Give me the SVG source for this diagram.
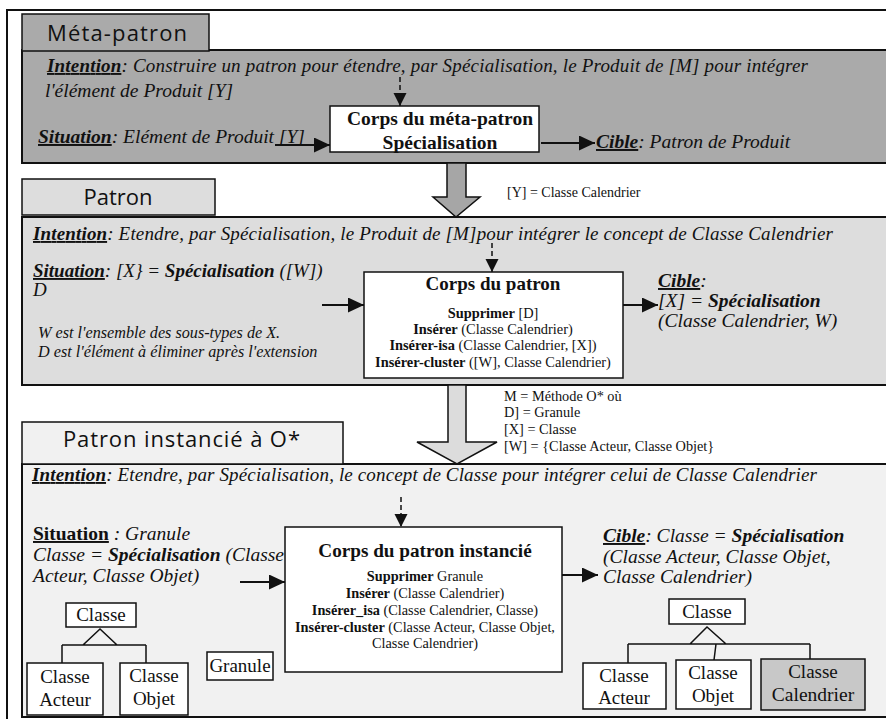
<svg xmlns="http://www.w3.org/2000/svg" width="886" height="719" viewBox="0 0 886 719">
<style>
.s{font-family:"Liberation Serif","Times New Roman",serif;fill:#111}
.t{font-family:"Open Sans","DejaVu Sans",sans-serif;fill:#111}
.i{font-style:italic}
.b{font-weight:bold}
.u{text-decoration:underline}
.box{fill:#fff;stroke:#111;stroke-width:1.5}
.cl{fill:#fff;stroke:#111;stroke-width:1.5}
.ln{stroke:#111;stroke-width:1.5;fill:none}
.ar{stroke:#111;stroke-width:1.8;fill:none;marker-end:url(#ah)}
.da{stroke:#111;stroke-width:1.5;fill:none;stroke-dasharray:5,3;marker-end:url(#ahs)}
</style>
<defs>
<marker id="ah" markerUnits="userSpaceOnUse" markerWidth="17" markerHeight="15" refX="16" refY="7.5" orient="auto"><path d="M0,0 L16,7.5 L0,15 z" fill="#111"/></marker>
<marker id="ahs" markerUnits="userSpaceOnUse" markerWidth="14" markerHeight="14" refX="13" refY="6.5" orient="auto"><path d="M0,0 L13,6.5 L0,13 z" fill="#111"/></marker>
</defs>
<rect x="0" y="0" width="886" height="719" fill="#fff"/>
<rect x="7" y="10" width="900" height="720" fill="none" stroke="#111" stroke-width="2"/>

<!-- Section 1 -->
<g id="meta-patron">
<rect x="22" y="50" width="880" height="113" fill="#aaaaaa" stroke="#111" stroke-width="2"/>
<rect x="22" y="14" width="187" height="37" fill="#aaaaaa" stroke="#111" stroke-width="1.5"/>
<text class="t" x="47" y="41" font-size="22" textLength="140">Méta-patron</text>
<text class="s i" x="47" y="72" font-size="19" textLength="761"><tspan class="b u">Intention</tspan>: Construire un patron pour étendre, par Spécialisation, le Produit de [M] pour intégrer</text>
<text class="s i" x="45" y="97" font-size="19.5">l'élément de Produit [Y]</text>
<text class="s i" x="38" y="143" font-size="19.5"><tspan class="b u">Situation</tspan>: Elément de Produit [Y]</text>
<text class="s i" x="596" y="148" font-size="19.5"><tspan class="b u">Cible</tspan>: Patron de Produit</text>
</g>
<g id="corps-meta">
<rect class="box" x="330" y="106" width="209" height="46"/>
<text class="s b" x="440" y="125" font-size="19.5" text-anchor="middle">Corps du méta-patron</text>
<text class="s b" x="440" y="149" font-size="19.5" text-anchor="middle">Spécialisation</text>
</g>

<!-- Section 2 -->
<g id="patron">
<rect x="22" y="217" width="880" height="168" fill="#dddddd" stroke="#111" stroke-width="2"/>
<rect x="22" y="179" width="193" height="36" fill="#dddddd" stroke="#111" stroke-width="1.5"/>
<text class="t" x="118" y="205" font-size="22" text-anchor="middle">Patron</text>
<text class="s i" x="33" y="240" font-size="19" textLength="800"><tspan class="b u">Intention</tspan>: Etendre, par Spécialisation, le Produit de [M]pour intégrer le concept de Classe Calendrier</text>
<text class="s i" x="33" y="277" font-size="19"><tspan class="b u">Situation</tspan>: [X} = <tspan class="b">Spécialisation</tspan> ([W])</text>
<text class="s i" x="33" y="296" font-size="19">D</text>
<text class="s i" x="38" y="338" font-size="16.2">W est l'ensemble des sous-types de X.</text>
<text class="s i" x="38" y="357" font-size="16.2">D est l'élément à éliminer après l'extension</text>
<text class="s i" x="658" y="287" font-size="19.5"><tspan class="b u">Cible</tspan>:</text>
<text class="s i" x="658" y="307" font-size="19.5">[X] = <tspan class="b">Spécialisation</tspan></text>
<text class="s i" x="658" y="327" font-size="19.5">(Classe Calendrier, W)</text>
</g>
<g id="corps-patron">
<rect class="box" x="364" y="272" width="259" height="106"/>
<text class="s b" x="493" y="290" font-size="19" text-anchor="middle">Corps du patron</text>
<text class="s" x="493" y="318" font-size="14.4" text-anchor="middle"><tspan class="b">Supprimer</tspan> [D]</text>
<text class="s" x="493" y="334" font-size="14.4" text-anchor="middle"><tspan class="b">Insérer</tspan> (Classe Calendrier)</text>
<text class="s" x="493" y="350" font-size="14.4" text-anchor="middle"><tspan class="b">Insérer-isa</tspan> (Classe Calendrier, [X])</text>
<text class="s" x="493" y="367" font-size="14.4" text-anchor="middle"><tspan class="b">Insérer-cluster</tspan> ([W], Classe Calendrier)</text>
</g>

<!-- Section 3 -->
<g id="patron-instancie">
<rect x="22" y="464" width="880" height="253" fill="#f1f1f1" stroke="#111" stroke-width="2"/>
<rect x="22" y="422" width="321" height="42" fill="#f1f1f1" stroke="#111" stroke-width="1.5"/>
<text class="t" x="63" y="447" font-size="22" textLength="237">Patron instancié à O*</text>
<text class="s i" x="32" y="481" font-size="19" textLength="785"><tspan class="b u">Intention</tspan>: Etendre, par Spécialisation, le concept de Classe pour intégrer celui de Classe Calendrier</text>
<text class="s" x="33" y="540" font-size="19.5"><tspan class="b u">Situation</tspan><tspan class="i"> : Granule</tspan></text>
<text class="s i" x="33" y="561" font-size="19.5">Classe = <tspan class="b">Spécialisation</tspan> (Classe</text>
<text class="s i" x="33" y="582" font-size="19.5">Acteur, Classe Objet)</text>
<text class="s i" x="603" y="542" font-size="19.5"><tspan class="b u">Cible</tspan>: Classe = <tspan class="b">Spécialisation</tspan></text>
<text class="s i" x="603" y="563" font-size="19.5">(Classe Acteur, Classe Objet,</text>
<text class="s i" x="603" y="583" font-size="19.5">Classe Calendrier)</text>
</g>
<g id="corps-instancie">
<rect class="box" x="285" y="527" width="277" height="145"/>
<text class="s b" x="425" y="557" font-size="19.2" text-anchor="middle">Corps du patron instancié</text>
<text class="s" x="425" y="581" font-size="14.3" text-anchor="middle"><tspan class="b">Supprimer</tspan> Granule</text>
<text class="s" x="425" y="598" font-size="14.3" text-anchor="middle"><tspan class="b">Insérer</tspan> (Classe Calendrier)</text>
<text class="s" x="425" y="615" font-size="14.3" text-anchor="middle"><tspan class="b">Insérer_isa</tspan> (Classe Calendrier, Classe)</text>
<text class="s" x="425" y="632" font-size="14.3" text-anchor="middle"><tspan class="b">Insérer-cluster</tspan> (Classe Acteur, Classe Objet,</text>
<text class="s" x="425" y="648" font-size="14.3" text-anchor="middle">Classe Calendrier)</text>
</g>

<!-- Left class tree -->
<g id="tree-left">
<rect class="cl" x="66" y="603" width="70" height="24"/>
<text class="s" x="101" y="621" font-size="19" text-anchor="middle">Classe</text>
<path class="ln" d="M100,629 L83,645 L117,645 Z M62,645 L146,645 M62,645 L62,663 M146,645 L146,663"/>
<rect class="cl" x="27" y="663" width="76" height="52"/>
<text class="s" x="65" y="683" font-size="19" text-anchor="middle">Classe</text>
<text class="s" x="65" y="706" font-size="19" text-anchor="middle">Acteur</text>
<rect class="cl" x="120" y="663" width="68" height="52"/>
<text class="s" x="154" y="682" font-size="19" text-anchor="middle">Classe</text>
<text class="s" x="154" y="705" font-size="19" text-anchor="middle">Objet</text>
</g>
<g id="granule">
<rect class="cl" x="207" y="652" width="66" height="28"/>
<text class="s" x="240" y="672" font-size="19" text-anchor="middle">Granule</text>
</g>

<!-- Right class tree -->
<g id="tree-right">
<rect class="cl" x="669" y="599" width="76" height="25"/>
<text class="s" x="707" y="618" font-size="19" text-anchor="middle">Classe</text>
<path class="ln" d="M707,627 L690,644 L726,644 Z M628,644 L810,644 M628,644 L628,663 M716,644 L714,660 M810,644 L810,659"/>
<rect class="cl" x="583" y="663" width="83" height="46"/>
<text class="s" x="624" y="682" font-size="19" text-anchor="middle">Classe</text>
<text class="s" x="624" y="704" font-size="19" text-anchor="middle">Acteur</text>
<rect class="cl" x="676" y="660" width="75" height="49"/>
<text class="s" x="713" y="679" font-size="19" text-anchor="middle">Classe</text>
<text class="s" x="713" y="702" font-size="19" text-anchor="middle">Objet</text>
<rect x="761" y="659" width="104" height="51" fill="#c8c8c8" stroke="#111" stroke-width="1.5"/>
<text class="s" x="813" y="678" font-size="19" text-anchor="middle">Classe</text>
<text class="s" x="813" y="701" font-size="19.5" text-anchor="middle">Calendrier</text>
</g>

<!-- Connectors -->
<g id="connectors">
<polygon points="447,163 466,163 466,197 480,197 456,217 433,197 447,197" fill="#a6a6a6" stroke="#111" stroke-width="1.5"/>
<polygon points="448,385 466,385 466,442 497,442 457,464 417,442 448,442" fill="#dcdcdc" stroke="#111" stroke-width="1.5"/>
<line class="ar" x1="275" y1="145" x2="330" y2="145"/>
<line class="ar" x1="541" y1="143" x2="595" y2="143"/>
<line class="da" x1="400" y1="77" x2="400" y2="106"/>
<line class="ar" x1="322" y1="305" x2="364" y2="305"/>
<line class="ar" x1="623" y1="305" x2="658" y2="305"/>
<line class="da" x1="492" y1="243" x2="492" y2="272"/>
<line class="ar" x1="240" y1="582" x2="285" y2="582"/>
<line class="ar" x1="562" y1="575" x2="598" y2="575"/>
<line class="da" x1="401" y1="497" x2="401" y2="527"/>
</g>

<g id="labels">
<text class="s" x="507" y="197" font-size="14">[Y] = Classe Calendrier</text>
<text class="s" x="504" y="401" font-size="14.3">M = Méthode O* où</text>
<text class="s" x="504" y="417" font-size="14.3">D] = Granule</text>
<text class="s" x="504" y="434" font-size="14.3">[X] = Classe</text>
<text class="s" x="504" y="451" font-size="14.3">[W] = {Classe Acteur, Classe Objet}</text>
</g>
</svg>
